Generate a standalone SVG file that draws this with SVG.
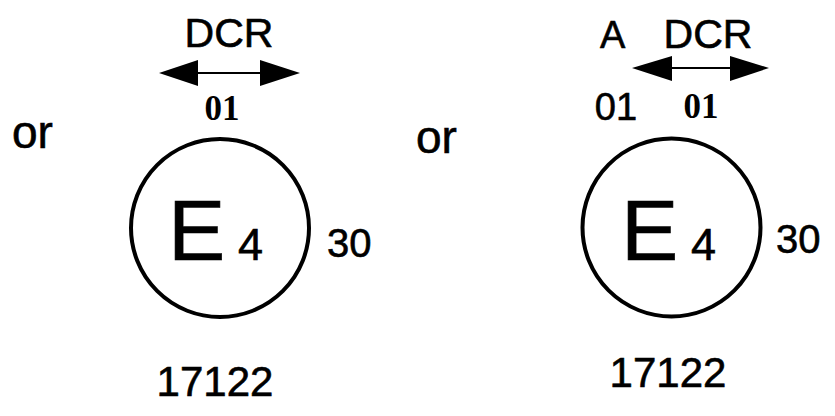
<svg xmlns="http://www.w3.org/2000/svg" width="835" height="416" viewBox="0 0 835 416">
<style>
.s{font-family:"Liberation Sans",Arial,sans-serif;fill:#000;stroke:#000;stroke-width:0.6}
.b{font-family:"Liberation Serif","Times New Roman",serif;font-weight:bold;fill:#000}
.ring{fill:none;stroke:#000;stroke-width:4}
.shaft{stroke:#000;stroke-width:2}
.head{fill:#000}
</style>
<rect width="835" height="416" fill="#fff"/>
<g id="left-mark">
  <text class="s" x="12" y="148" font-size="46">or</text>
  <text class="s" x="229" y="47" font-size="41" text-anchor="middle">DCR</text>
  <text class="b" x="222" y="120" font-size="35" text-anchor="middle">01</text>
  <circle class="ring" cx="220" cy="228" r="89"/>
  <text class="s" x="168" y="260" font-size="86">E</text>
  <text class="s" x="238" y="260" font-size="45">4</text>
  <text class="s" x="327" y="257" font-size="40">30</text>
  <text class="s" x="215" y="396" font-size="42" text-anchor="middle">17122</text>
</g>
<g id="right-mark">
  <text class="s" x="416" y="153" font-size="46">or</text>
  <text class="s" x="600" y="48" font-size="38">A</text>
  <text class="s" x="708" y="48" font-size="41" text-anchor="middle">DCR</text>
  <text class="s" x="616" y="120" font-size="38" text-anchor="middle">01</text>
  <text class="b" x="701" y="118" font-size="35" text-anchor="middle">01</text>
  <circle class="ring" cx="671.5" cy="227.5" r="89"/>
  <text class="s" x="621" y="260" font-size="86">E</text>
  <text class="s" x="691" y="260" font-size="45">4</text>
  <text class="s" x="776" y="253" font-size="40">30</text>
  <text class="s" x="668" y="387" font-size="42" text-anchor="middle">17122</text>
</g>
<g id="connectors">
  <line class="shaft" x1="195" y1="73" x2="264" y2="73"/>
  <polygon class="head" points="159,73 198,60 198,86"/>
  <polygon class="head" points="300,73 260,60 260,86"/>
  <line class="shaft" x1="668" y1="68" x2="734" y2="68"/>
  <polygon class="head" points="632,68 672,56 672,81"/>
  <polygon class="head" points="769,68 730,56 730,81"/>
</g>
</svg>
